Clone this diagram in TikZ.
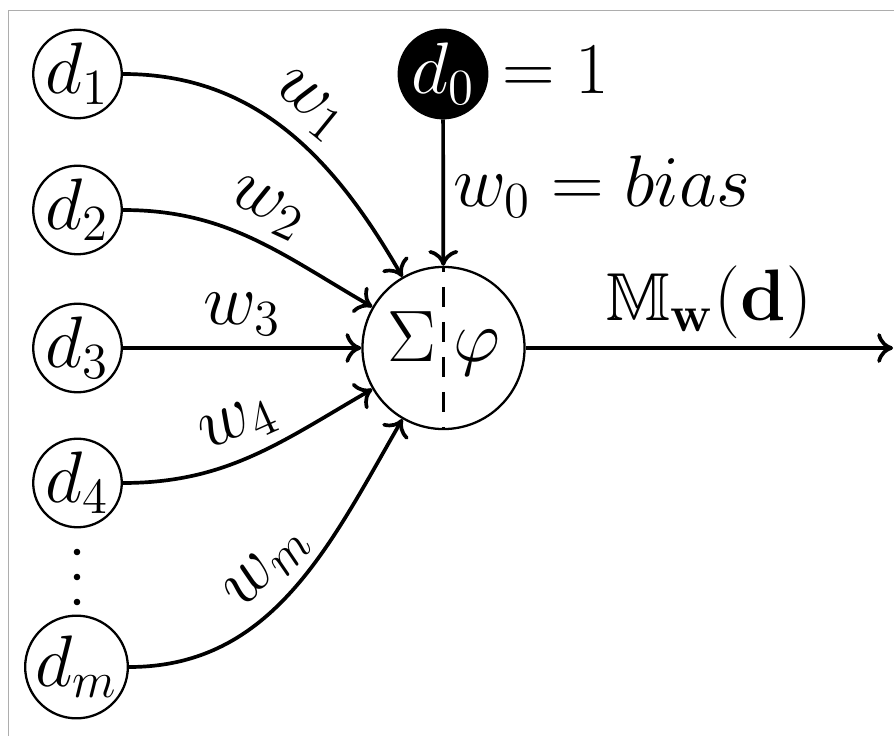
\documentclass[tikz,border=0pt]{standalone}
\usepackage{amsmath,amssymb}
\usetikzlibrary{arrows.meta}
\begin{document}
\begin{tikzpicture}[x=0.01cm,y=0.01cm,
  font=\fontsize{19.3}{23}\selectfont,
  neuron/.style={circle, draw, line width=0.65pt, inner sep=0pt, minimum size=0.82cm},
  conn/.style={line width=1.05pt, -{To[length=4.5pt,width=8.5pt]}},
  wlab/.style={sloped, above, inner sep=3pt},
  txt/.style={inner sep=0pt},
  frameline/.style={draw=black!32, line width=0.55pt}
]
\useasboundingbox (0,0) rectangle (894,736);
\draw[frameline] (8.5,0) -- (8.5,725.5) -- (894,725.5);

\node[neuron] (d1) at (77.5,662) {$d_1$};
\node[neuron] (d2) at (77.5,526) {$d_2$};
\node[neuron] (d3) at (77.5,388) {$d_3$};
\node[neuron] (d4) at (77.5,253) {$d_4$};
\node[neuron, minimum size=0.98cm] (dm) at (76.5,69) {$d_m$};
\node[neuron, fill=black, text=white, minimum size=0.85cm] (d0) at (443,662) {$d_0$};
\node[neuron, minimum size=1.62cm] (c) at (443.5,388) {};

\fill (77,184) circle (3.3) (77,159) circle (3.3) (77,134) circle (3.3);

\draw[line width=0.65pt, dash pattern=on 0.2cm off 0.15cm, dash phase=0.14cm] (c.north) -- (c.south);
\node[txt, anchor=base] (sig) at (412,374) {$\Sigma$};
\node[txt, anchor=base] (phi) at (477,374) {$\varphi$};

\node[txt, anchor=base west] (eq1) at (502,642) {$=1$};

\draw[conn] (d1) to[out=0,in=120] node[wlab, pos=0.5] {$w_1$} (c);
\draw[conn] (d2) to[out=0,in=150] node[wlab, pos=0.5] {$w_2$} (c);
\draw[conn] (d3) -- node[wlab, pos=0.5] {$w_3$} (c);
\draw[conn] (d4) to[out=0,in=210] node[wlab, pos=0.5] {$w_4$} (c);
\draw[conn] (dm) to[out=0,in=240] node[wlab, pos=0.5] {$w_m$} (c);

\draw[conn] (d0) -- (c);
\node[txt, anchor=base west] (bias) at (453,529) {$w_0 = bias$};

\coordinate (out) at (893,388);
\draw[conn] (c) -- node[above, inner sep=2pt] {$\mathbb{M}_{\mathbf{w}}(\mathbf{d})$} (out);
\end{tikzpicture}
\end{document}
